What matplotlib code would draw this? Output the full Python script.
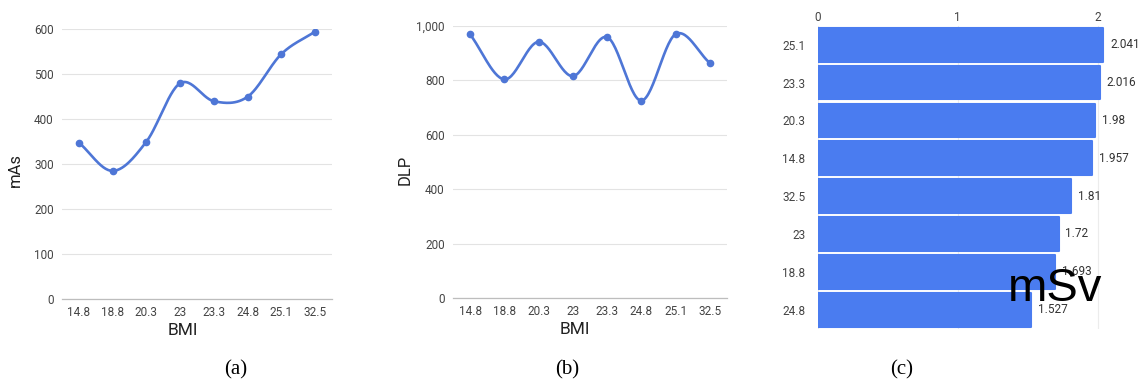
import numpy as np
import matplotlib
matplotlib.use("Agg")
import matplotlib.pyplot as plt

# ---------------- data ----------------
bmi_labels = ["14.8", "18.8", "20.3", "23", "23.3", "24.8", "25.1", "32.5"]
mas_values = [348, 285, 350, 480, 440, 450, 545, 595]
dlp_values = [968, 803, 941, 815, 958, 725, 969, 863]

msv_labels = ["25.1", "23.3", "20.3", "14.8", "32.5", "23", "18.8", "24.8"]
msv_values = [2.041, 2.016, 1.98, 1.957, 1.81, 1.72, 1.693, 1.527]
msv_text = ["2.041", "2.016", "1.98", "1.957", "1.81", "1.72", "1.693", "1.527"]

mas_ticks = [0, 100, 200, 300, 400, 500, 600]
dlp_ticks = [0, 200, 400, 600, 800, 1000]
dlp_ticklabels = ["0", "200", "400", "600", "800", "1,000"]

LINE_C = "#4e76d6"
BAR_C = "#4a7cf0"
GRID_C = "#e3e3e3"
TICK_C = "#444444"

plt.rcParams["font.family"] = ["Roboto", "DejaVu Sans"]


def smooth(xs, ys, n=30):
    """Catmull-Rom style smoothing of the polyline for display."""
    xs = np.asarray(xs, float)
    ys = np.asarray(ys, float)
    px = np.concatenate([[2 * xs[0] - xs[1]], xs, [2 * xs[-1] - xs[-2]]])
    py = np.concatenate([[2 * ys[0] - ys[1]], ys, [2 * ys[-1] - ys[-2]]])
    outx, outy = [], []
    t = np.linspace(0, 1, n)
    for i in range(1, len(px) - 2):
        p0, p1, p2, p3 = [np.array([px[j], py[j]]) for j in (i - 1, i, i + 1, i + 2)]
        m1 = (p2 - p0) / 2
        m2 = (p3 - p1) / 2
        h00 = 2 * t**3 - 3 * t**2 + 1
        h10 = t**3 - 2 * t**2 + t
        h01 = -2 * t**3 + 3 * t**2
        h11 = t**3 - t**2
        pts = (np.outer(h00, p1) + np.outer(h10, m1) + np.outer(h01, p2) + np.outer(h11, m2))
        outx.extend(pts[:, 0])
        outy.extend(pts[:, 1])
    return np.array(outx), np.array(outy)


W, H = 1140, 385
fig = plt.figure(figsize=(W / 100, H / 100), dpi=100)


def frac_rect(x0, y_top, x1, y_bot):
    return [x0 / W, 1 - y_bot / H, (x1 - x0) / W, (y_bot - y_top) / H]


def line_panel(rect, values, ticks, ticklabels, ymax, ylabel, ylab_xy, xlab_xy):
    ax = fig.add_axes(rect)
    x = np.arange(len(bmi_labels))
    sx, sy = smooth(x, values)
    ax.plot(sx, sy, color=LINE_C, lw=1.9, solid_capstyle="round", zorder=3)
    ax.plot(x, values, "o", color=LINE_C, ms=4.5, zorder=4)
    ax.set_xlim(-0.5, len(bmi_labels) - 0.5)
    ax.set_ylim(0, ymax)
    ax.set_xticks(x)
    ax.set_xticklabels(bmi_labels)
    ax.set_yticks(ticks)
    ax.set_yticklabels(ticklabels)
    ax.tick_params(axis="both", length=0, labelsize=8.5, colors=TICK_C)
    ax.tick_params(axis="y", pad=6)
    ax.tick_params(axis="x", pad=5)
    ax.grid(axis="y", color=GRID_C, lw=0.8)
    ax.set_axisbelow(True)
    for s in ["top", "right", "left"]:
        ax.spines[s].set_visible(False)
    ax.spines["bottom"].set_color("#bdbdbd")
    ax.spines["bottom"].set_linewidth(0.9)
    ax.set_ylabel(ylabel, fontsize=12, color="#222222")
    ax.yaxis.set_label_coords(*ylab_xy)
    ax.set_xlabel("BMI", fontsize=12.5, color="#222222")
    ax.xaxis.set_label_coords(*xlab_xy)
    return ax


# (a)
line_panel(frac_rect(62, 29.3, 332, 299), mas_values, mas_ticks,
           [str(t) for t in mas_ticks], 600, "mAs", (-0.145, 0.48), (0.448, -0.088))
# (b)
line_panel(frac_rect(453, 25.7, 727, 298.3), dlp_values, dlp_ticks,
           dlp_ticklabels, 1000, "DLP", (-0.147, 0.47), (0.445, -0.086))

# (c)
axc = fig.add_axes(frac_rect(817.7, 25.8, 817.7 + 2.2 * 140, 328.6))
yc = np.arange(len(msv_labels))
axc.barh(yc, msv_values, height=0.89, color=BAR_C, edgecolor=BAR_C,
         linewidth=1.5, joinstyle="round", zorder=3)
axc.set_ylim(len(msv_labels) - 0.5, -0.5)
axc.set_xlim(0, 2.2)
axc.set_xticks([0, 1, 2])
axc.set_xticklabels(["0", "1", "2"])
axc.xaxis.tick_top()
axc.set_yticks(yc)
axc.set_yticklabels(msv_labels)
axc.tick_params(axis="both", length=0, labelsize=8.5, colors=TICK_C)
axc.tick_params(axis="y", pad=9)
axc.tick_params(axis="x", pad=1)
axc.grid(axis="x", color="#ececec", lw=0.8)
axc.set_axisbelow(True)
for s in axc.spines.values():
    s.set_visible(False)
for yi, v, t in zip(yc, msv_values, msv_text):
    axc.annotate(t, (v, yi), xytext=(5, 0), textcoords="offset points",
                 ha="left", va="center", fontsize=8.5, color="#333333", zorder=5)

fig.text(1055 / W, 1 - 289 / H, "mSv", fontsize=34, family="Liberation Sans",
         ha="center", va="center", color="black")

# captions
for cx, lab in [(236, "(a)"), (567, "(b)"), (902, "(c)")]:
    fig.text(cx / W, 1 - 370 / H, lab, fontsize=15, family="Liberation Serif",
             ha="center", va="center", color="black")

fig.savefig("out.png", dpi=100)
